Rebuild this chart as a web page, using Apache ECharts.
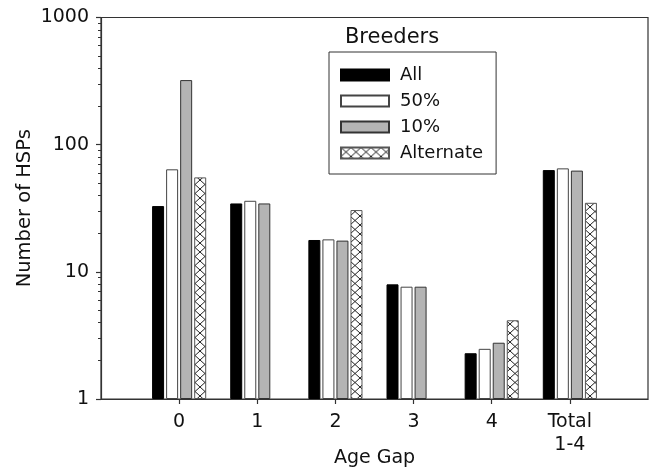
<!DOCTYPE html>
<html>
<head>
<meta charset="utf-8">
<script src="https://cdn.jsdelivr.net/npm/echarts@6/dist/echarts.min.js"></script>
<style>html,body{margin:0;padding:0;background:#fff}#c{width:651px;height:471px}</style>
</head>
<body>
<div id="c"></div>
<script>
// Categories (positions -1 and 6 are empty padding slots of the frame)
var categories = ['', '0', '1', '2', '3', '4', 'Total\n1-4', ''];
var seriesNames = ['All', '50%', '10%', 'Alternate'];
var allVals = [null, 32.9, 34.5, 17.8, 7.97, 2.29, 63.1, null];
var fiftyVals = [null, 64, 36.2, 18.0, 7.64, 2.48, 65.1, null];
var tenVals = [null, 322, 34.5, 17.6, 7.64, 2.77, 62.5, null];
var altVals = [null, 55.3, null, 30.6, null, 4.16, 34.9, null];
var yMajorTicks = [1, 10, 100, 1000];
var yMinorTicks = [2,3,4,5,6,7,8,9,20,30,40,50,60,70,80,90,200,300,400,500,600,700,800,900];

var FONT = 'DejaVu Sans';
var cv = document.createElement('canvas');
cv.width = 10; cv.height = 9;
var g = cv.getContext('2d');
g.fillStyle = '#fff'; g.fillRect(0,0,10,9);
g.strokeStyle = '#222'; g.lineWidth = 1;
g.beginPath(); g.moveTo(0,0); g.lineTo(10,9); g.moveTo(10,0); g.lineTo(0,9); g.stroke();
var hatch = {image: cv, repeat: 'repeat'};

var chart = echarts.init(document.getElementById('c'), null, {renderer: 'canvas'});
var inner = function (i) { return i > 0 && i < categories.length - 1; };
function bar(name, data, color, border) {
  return {
    name: name, type: 'bar', data: data, barWidth: 12, barGap: '17%',
    itemStyle: {color: color, borderColor: border, borderWidth: 1}
  };
}
chart.setOption({
  animation: false,
  backgroundColor: '#fff',
  grid: {left: 101, right: 3, top: 17.5, bottom: 72, outerBoundsMode: 'none', containLabel: false,
         show: true, borderColor: '#333', borderWidth: 1.2, backgroundColor: 'transparent'},
  graphic: [{type: 'text', x: 392, y: 38, style: {text: 'Breeders', font: '21px "DejaVu Sans"', fill: '#111', align: 'center', verticalAlign: 'middle'}}],
  legend: {
    orient: 'vertical', left: 329, top: 52,
    padding: [14, 13, 12, 11], borderColor: '#333', borderWidth: 1,
    itemWidth: 48, itemHeight: 11, itemGap: 8, icon: 'rect',
    textStyle: {fontFamily: FONT, fontSize: 18, color: '#111', lineHeight: 18, padding: [0, 0, 0, 6]},
    data: seriesNames
  },
  xAxis: {
    type: 'category', data: categories, boundaryGap: false,
    name: 'Age Gap', nameLocation: 'middle', nameGap: 50, nameMoveOverlap: false,
    nameTextStyle: {fontFamily: FONT, fontSize: 19, color: '#111'},
    axisLine: {lineStyle: {color: '#333', width: 1.2}},
    axisTick: {interval: inner, length: 5, lineStyle: {color: '#333', width: 1.2}},
    axisLabel: {interval: inner, margin: 12, fontFamily: FONT, fontSize: 19, color: '#111', lineHeight: 23},
    splitLine: {show: false}
  },
  yAxis: [{
    type: 'log', logBase: 10, min: 1, max: 1000,
    name: 'Number of HSPs', nameLocation: 'middle', nameGap: 66, nameMoveOverlap: false,
    nameTextStyle: {fontFamily: FONT, fontSize: 19.5, color: '#111'},
    axisLine: {show: true, lineStyle: {color: '#333', width: 1.2}},
    axisTick: {show: true, length: 5, customValues: yMajorTicks, lineStyle: {color: '#333', width: 1.2}},
    axisLabel: {margin: 12, customValues: yMajorTicks, formatter: function (v) { return String(Math.round(v)); },
                fontFamily: FONT, fontSize: 19, color: '#111'},
    splitLine: {show: false}
  }, {
    type: 'log', logBase: 10, min: 1, max: 1000, position: 'left',
    axisLine: {show: false},
    axisTick: {show: true, length: 3, customValues: yMinorTicks, lineStyle: {color: '#333', width: 1}},
    axisLabel: {show: false},
    splitLine: {show: false}
  }],
  series: [
    bar(seriesNames[0], allVals, '#000', '#000'),
    bar(seriesNames[1], fiftyVals, '#fff', '#444'),
    bar(seriesNames[2], tenVals, '#b4b4b4', '#333'),
    bar(seriesNames[3], altVals, hatch, '#555')
  ]
});
</script>
</body>
</html>
